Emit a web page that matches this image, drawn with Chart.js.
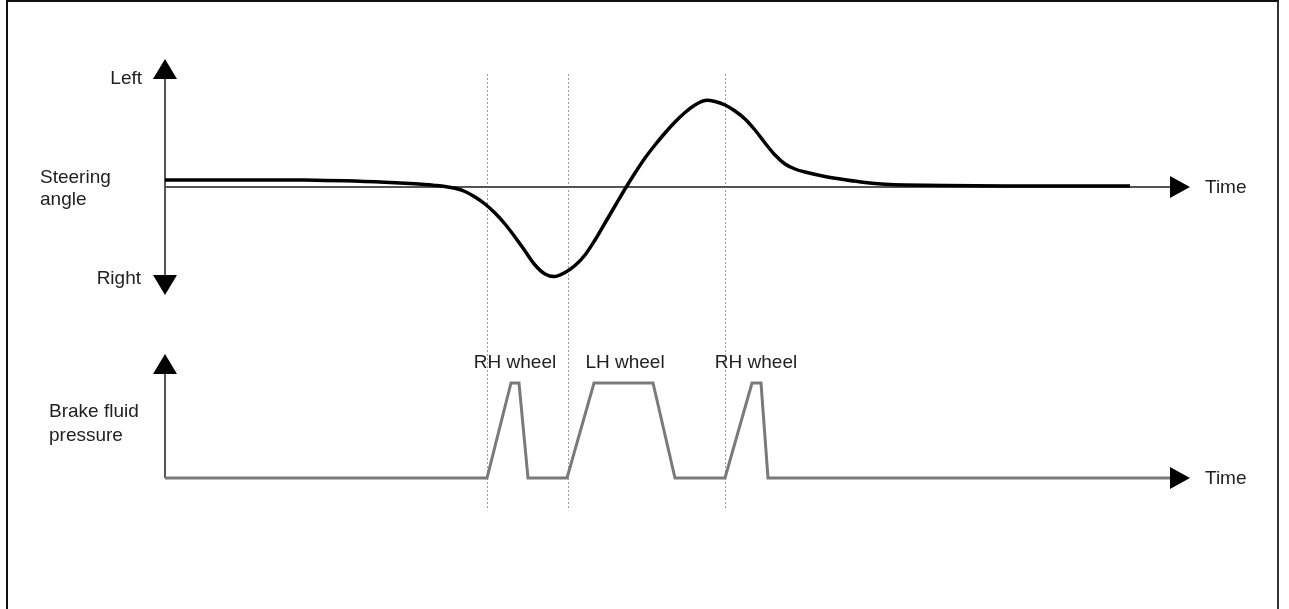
<!DOCTYPE html>
<html>
<head>
<meta charset="utf-8">
<script src="https://cdn.jsdelivr.net/npm/chart.js@4.4.1/dist/chart.umd.min.js"></script>
<style>
  html, body { margin: 0; padding: 0; background: #fff; }
  #frame {
    position: absolute; left: 6px; top: 0; width: 1273px; height: 609px;
    border-left: 2px solid #111; border-top: 2px solid #111; border-right: 2px solid #333;
    box-sizing: border-box;
  }
  canvas { position: absolute; left: 0; top: 0; }
</style>
</head>
<body>
<div id="frame"></div>
<canvas id="diagram" width="1289" height="609"></canvas>
<script>
// time runs along x (arbitrary units), steering angle: + = left, - = right
const steerTime  = [0, 6, 10, 14, 18, 20, 22, 24, 26, 27, 28, 29, 30, 31, 32, 33, 34, 35, 36, 37, 38, 39, 40, 41, 42, 43, 44, 45, 46, 47, 48, 49, 50, 51, 52, 53, 54, 55, 56, 57, 58, 59, 60, 61, 62, 63, 64, 66, 68, 70, 72, 74, 78, 84, 90, 96.5];
const steerAngle = [0.7, 0.7, 0.7, 0.69, 0.62, 0.56, 0.48, 0.38, 0.25, 0.16, 0.05, -0.13, -0.45, -1.0, -1.7, -2.6, -3.7, -5.0, -6.4, -7.8, -8.7, -8.95, -8.55, -7.85, -6.8, -5.3, -3.6, -1.9, -0.2, 1.4, 2.9, 4.2, 5.4, 6.5, 7.45, 8.2, 8.65, 8.55, 8.2, 7.6, 6.8, 5.7, 4.4, 3.2, 2.3, 1.8, 1.5, 1.05, 0.72, 0.45, 0.28, 0.2, 0.14, 0.11, 0.1, 0.1];

// brake fluid pressure, 0..100 (% of max)
const brakeTime     = [0, 32.2, 34.6, 35.4, 36.3, 40.2, 42.9, 48.8, 51.0, 56.0, 58.7, 59.6, 60.3, 100.6];
const brakePressure = [0, 0, 100, 100, 0, 0, 100, 100, 0, 0, 100, 100, 0, 0];

// when each wheel starts being braked (dotted markers) and the labels over the pulses
const markerTimes = [32.2, 40.25, 55.95];
const wheelLabels = ['RH wheel', 'LH wheel', 'RH wheel'];
const wheelLabelTimes = [35.0, 46.0, 59.1];

const timeAxisEnd = 102.5;   // arrow tip on the time axes
const steerAxisTop = 12.8;   // "Left" arrow tip
const steerAxisBottom = -10.8; // "Right" arrow tip
const brakeAxisTop = 130.5;

const FONT = '19px "Liberation Sans", Arial, sans-serif';

function toPoints(xs, ys) {
  return xs.map((x, i) => ({ x: x, y: ys[i] }));
}

function arrow(ctx, tipX, tipY, dir) {
  // dir: 'up' | 'down' | 'right'
  ctx.beginPath();
  if (dir === 'up') {
    ctx.moveTo(tipX, tipY); ctx.lineTo(tipX - 12, tipY + 20); ctx.lineTo(tipX + 12, tipY + 20);
  } else if (dir === 'down') {
    ctx.moveTo(tipX, tipY); ctx.lineTo(tipX - 12, tipY - 20); ctx.lineTo(tipX + 12, tipY - 20);
  } else {
    ctx.moveTo(tipX, tipY); ctx.lineTo(tipX - 20, tipY - 11); ctx.lineTo(tipX - 20, tipY + 11);
  }
  ctx.closePath();
  ctx.fillStyle = '#000';
  ctx.fill();
}

const axesPlugin = {
  id: 'axesPlugin',
  beforeDatasetsDraw(chart) {
    const ctx = chart.ctx;
    const x = chart.scales.x, ys = chart.scales.ySteer, yb = chart.scales.yBrake;
    const x0 = x.getPixelForValue(0), xEnd = x.getPixelForValue(timeAxisEnd);
    ctx.save();

    // dotted markers
    ctx.strokeStyle = '#9a9a9a';
    ctx.lineWidth = 1;
    ctx.setLineDash([2, 2]);
    markerTimes.forEach(t => {
      const px = Math.round(x.getPixelForValue(t)) + 0.5;
      ctx.beginPath();
      ctx.moveTo(px, ys.getPixelForValue(11.3));
      ctx.lineTo(px, yb.getPixelForValue(-34));
      ctx.stroke();
    });
    ctx.setLineDash([]);

    // steering axes
    ctx.strokeStyle = '#555';
    ctx.lineWidth = 2;
    ctx.beginPath();
    ctx.moveTo(x0, ys.getPixelForValue(steerAxisTop) + 18);
    ctx.lineTo(x0, ys.getPixelForValue(steerAxisBottom) - 18);
    ctx.stroke();
    ctx.beginPath();
    ctx.moveTo(x0, ys.getPixelForValue(0));
    ctx.lineTo(xEnd - 18, ys.getPixelForValue(0));
    ctx.stroke();

    // brake axis (vertical)
    ctx.beginPath();
    ctx.moveTo(x0, yb.getPixelForValue(brakeAxisTop) + 18);
    ctx.lineTo(x0, yb.getPixelForValue(0));
    ctx.stroke();
    ctx.restore();
  },
  afterDraw(chart) {
    const ctx = chart.ctx;
    const x = chart.scales.x, ys = chart.scales.ySteer, yb = chart.scales.yBrake;
    const x0 = x.getPixelForValue(0), xEnd = x.getPixelForValue(timeAxisEnd);
    ctx.save();
    arrow(ctx, x0, ys.getPixelForValue(steerAxisTop), 'up');
    arrow(ctx, x0, ys.getPixelForValue(steerAxisBottom), 'down');
    arrow(ctx, xEnd, ys.getPixelForValue(0), 'right');
    arrow(ctx, x0, yb.getPixelForValue(brakeAxisTop), 'up');
    arrow(ctx, xEnd, yb.getPixelForValue(0), 'right');

    ctx.font = FONT;
    ctx.fillStyle = '#222';
    ctx.textBaseline = 'middle';

    ctx.textAlign = 'right';
    ctx.fillText('Left', x0 - 23, ys.getPixelForValue(10.8));
    ctx.fillText('Right', x0 - 24, ys.getPixelForValue(-9.2));

    ctx.textAlign = 'left';
    ctx.fillText('Steering', 40, ys.getPixelForValue(0.9));
    ctx.fillText('angle', 40, ys.getPixelForValue(-1.3));
    ctx.fillText('Brake fluid', 49, yb.getPixelForValue(69.5));
    ctx.fillText('pressure', 49, yb.getPixelForValue(44.2));
    ctx.fillText('Time', xEnd + 15, ys.getPixelForValue(0) + 1);
    ctx.fillText('Time', xEnd + 15, yb.getPixelForValue(0) + 1);

    ctx.textAlign = 'center';
    wheelLabels.forEach((lbl, i) => {
      ctx.fillText(lbl, x.getPixelForValue(wheelLabelTimes[i]), yb.getPixelForValue(121));
    });
    ctx.restore();
  }
};

new Chart(document.getElementById('diagram'), {
  type: 'line',
  data: {
    datasets: [
      {
        label: 'Steering angle',
        data: toPoints(steerTime, steerAngle),
        yAxisID: 'ySteer',
        borderColor: '#000',
        borderWidth: 3.5,
        pointRadius: 0,
        tension: 0.3,
        fill: false
      },
      {
        label: 'Brake fluid pressure',
        data: toPoints(brakeTime, brakePressure),
        yAxisID: 'yBrake',
        borderColor: '#7a7a7a',
        borderWidth: 3,
        pointRadius: 0,
        tension: 0,
        fill: false
      }
    ]
  },
  options: {
    responsive: false,
    animation: false,
    layout: { padding: { left: 165, right: 99, top: 60, bottom: 89 } },
    plugins: { legend: { display: false }, tooltip: { enabled: false } },
    scales: {
      x: { type: 'linear', min: 0, max: timeAxisEnd, display: false },
      ySteer: { type: 'linear', min: -33.3, max: 12.7, display: false },
      yBrake: { type: 'linear', min: -44.2, max: 440, display: false }
    }
  },
  plugins: [axesPlugin]
});
</script>
</body>
</html>
